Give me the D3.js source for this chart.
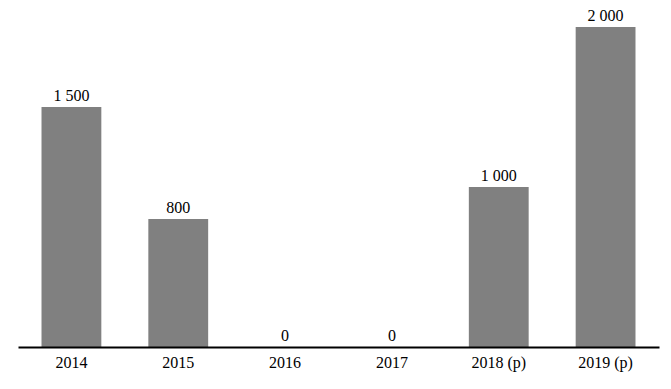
<!DOCTYPE html>
<html>
<head>
<meta charset="utf-8">
<script src="https://cdn.jsdelivr.net/npm/d3@7"></script>
<style>
  body { margin: 0; background: #fff; }
  text { font-family: "Liberation Serif", serif; font-size: 16px; fill: #000; }
</style>
</head>
<body>
<div id="chart"></div>
<script>
const years = ['2014', '2015', '2016', '2017', '2018 (p)', '2019 (p)'];
const values = [1500, 800, 0, 0, 1000, 2000];
const valueLabels = ['1 500', '800', '0', '0', '1 000', '2 000'];

const width = 671;
const height = 389;

const x = d3.scaleBand()
    .domain(years)
    .range([18, 659])
    .paddingInner(0.44)
    .paddingOuter(0.22);

const y = d3.scaleLinear()
    .domain([0, 2000])
    .range([347, 27]);

const svg = d3.select("#chart")
    .append("svg")
    .attr("width", width)
    .attr("height", height);

svg.selectAll("rect.bar")
    .data(values)
    .enter()
    .append("rect")
    .attr("class", "bar")
    .attr("x", (d, i) => x(years[i]))
    .attr("width", x.bandwidth())
    .attr("y", d => y(d))
    .attr("height", d => y(0) - y(d))
    .attr("fill", "#808080");

svg.selectAll("text.val")
    .data(values)
    .enter()
    .append("text")
    .attr("class", "val")
    .attr("x", (d, i) => x(years[i]) + x.bandwidth() / 2)
    .attr("y", d => y(d) - 6)
    .attr("text-anchor", "middle")
    .text((d, i) => valueLabels[i]);

const axis = svg.append("g")
    .attr("transform", "translate(0," + y(0) + ")")
    .call(d3.axisBottom(x).tickSize(0).tickPadding(10));

axis.select(".domain")
    .attr("stroke", "#000")
    .attr("stroke-width", 2);

axis.selectAll("text")
    .style("font-family", "Liberation Serif, serif")
    .style("font-size", "16px");
</script>
</body>
</html>
